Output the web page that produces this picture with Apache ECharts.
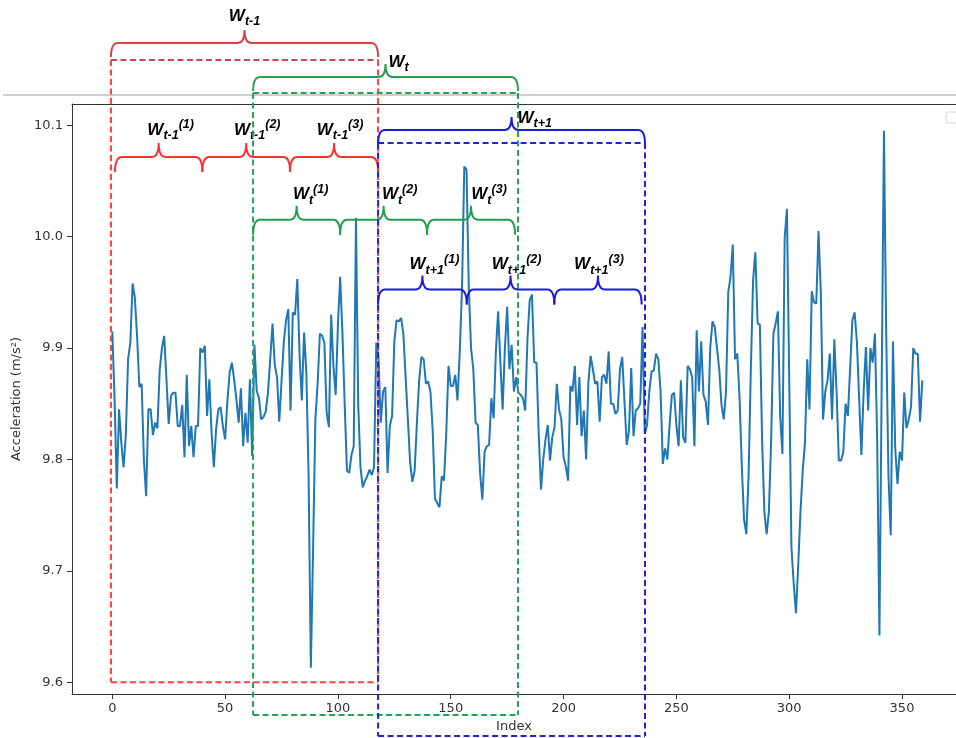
<!DOCTYPE html>
<html><head><meta charset="utf-8">
<script src="https://cdn.jsdelivr.net/npm/echarts@6/dist/echarts.min.js"></script>
<style>html,body{margin:0;padding:0;background:#fff}#c{width:956px;height:738px}</style>
</head><body><div id="c"></div>
<script>
// ---------- data ----------
const acceleration = [
9.915,9.855,9.774,9.845,9.815,9.793,9.822,9.890,9.905,9.958,
9.945,9.910,9.865,9.868,9.800,9.767,9.845,9.845,9.822,9.833,
9.828,9.880,9.900,9.911,9.872,9.832,9.857,9.860,9.860,9.830,
9.830,9.849,9.802,9.876,9.812,9.830,9.802,9.830,9.830,9.900,
9.896,9.902,9.839,9.872,9.824,9.793,9.827,9.845,9.847,9.830,
9.818,9.852,9.878,9.887,9.872,9.854,9.833,9.864,9.812,9.842,
9.815,9.872,9.803,9.903,9.862,9.855,9.836,9.838,9.843,9.860,
9.890,9.922,9.885,9.874,9.834,9.870,9.905,9.925,9.935,9.844,
9.932,9.930,9.962,9.893,9.853,9.914,9.878,9.785,9.613,9.721,
9.836,9.868,9.913,9.911,9.905,9.842,9.829,9.930,9.884,9.858,
9.921,9.964,9.913,9.849,9.790,9.788,9.804,9.812,10.017,9.849,
9.793,9.775,9.781,9.785,9.791,9.786,9.793,9.905,9.890,9.833,
9.861,9.865,9.788,9.830,9.839,9.906,9.925,9.924,9.927,9.913,
9.874,9.836,9.797,9.780,9.790,9.833,9.871,9.892,9.890,9.868,
9.870,9.861,9.826,9.765,9.761,9.757,9.785,9.781,9.823,9.884,
9.866,9.866,9.876,9.853,9.897,9.954,10.063,10.060,9.954,9.900,
9.881,9.833,9.831,9.788,9.764,9.807,9.812,9.813,9.855,9.837,
9.897,9.933,9.887,9.845,9.900,9.937,9.881,9.903,9.861,9.874,
9.860,9.858,9.855,9.844,9.908,9.943,9.948,9.887,9.887,9.823,
9.773,9.800,9.818,9.831,9.799,9.820,9.829,9.868,9.845,9.836,
9.802,9.794,9.781,9.866,9.861,9.884,9.831,9.874,9.821,9.844,
9.800,9.869,9.893,9.881,9.868,9.870,9.834,9.874,9.876,9.868,
9.897,9.850,9.850,9.841,9.844,9.881,9.892,9.852,9.813,9.826,
9.882,9.821,9.844,9.846,9.850,9.919,9.823,9.831,9.861,9.879,
9.880,9.895,9.890,9.861,9.796,9.810,9.800,9.831,9.858,9.860,
9.831,9.812,9.871,9.820,9.815,9.884,9.881,9.874,9.812,9.916,
9.861,9.906,9.858,9.852,9.831,9.900,9.924,9.919,9.900,9.881,
9.849,9.836,9.861,9.950,9.964,9.993,9.890,9.895,9.855,9.794,
9.746,9.733,9.785,9.881,9.961,9.986,9.922,9.921,9.817,9.753,
9.733,9.753,9.817,9.913,9.922,9.933,9.839,9.805,9.999,10.025,
9.874,9.721,9.689,9.662,9.705,9.753,9.790,9.815,9.890,9.845,
9.951,9.941,9.940,10.005,9.951,9.836,9.861,9.871,9.895,9.836,
9.908,9.861,9.799,9.799,9.807,9.850,9.839,9.881,9.925,9.932,
9.906,9.855,9.804,9.861,9.901,9.844,9.900,9.887,9.913,9.817,
9.642,9.870,10.095,9.913,9.785,9.732,9.906,9.810,9.778,9.807,
9.799,9.860,9.828,9.836,9.847,9.900,9.895,9.895,9.834,9.871
];
const sampleIndex = acceleration.map((_, i) => i);
const xTicks = [0, 50, 100, 150, 200, 250, 300, 350];
const yTicks = [9.6, 9.7, 9.8, 9.9, 10.0, 10.1];

// windows (index ranges) and their three sub-windows
const windowSubs = ['t-1', 't', 't+1'];
const windowSpans = [[-0.6, 117.8], [62.4, 179.8], [117.8, 236.1]];
const subWindowSpans = [
  [[1.2, 39.9], [39.9, 78.8], [78.8, 117.8]],
  [[62.4, 101.0], [101.0, 139.5], [139.5, 178.5]],
  [[117.8, 157.1], [157.1, 195.9], [195.9, 234.6]]
];

// ---------- layout / style of annotations ----------
const X_MIN = -17.86, X_MAX = 373.93;
const Y_MIN = 9.5895, Y_MAX = 10.1191;
const ann = [
  { braceV: 10.1738, boxTop: 10.1585, boxBottom: 9.6,    subV: 10.0716,
    brace: '#d64545', topDash: '#c94a4a', dash: '#ff4040', sub: '#ff3030',
    topLabel: { align: 'center', dx: 0, dy: -2, va: 'bottom' }, subDx: [12, 11, 6], subDy: -1 },
  { braceV: 10.1433, boxTop: 10.1290, boxBottom: 9.5707, subV: 10.0152,
    brace: '#2f9e55', topDash: '#23a455', dash: '#23a455', sub: '#1fa04a',
    topLabel: { align: 'left', dx: 3, dy: -2, va: 'middle' }, subDx: [14, 16, 18], subDy: 1 },
  { braceV: 10.0958, boxTop: 10.0841, boxBottom: 9.5519, subV: 9.9525,
    brace: '#1c1ce0', topDash: '#2020e6', dash: '#2020e6', sub: '#1c1ce0',
    topLabel: { align: 'left', dx: 6, dy: 1, va: 'middle' }, subDx: [12, 6, 1], subDy: 1 }
];

const richStyle = {
  w: { fontSize: 17, fontWeight: 'bold', fontStyle: 'italic', fontFamily: 'Liberation Sans', color: '#000' },
  s: { fontSize: 12.5, fontWeight: 'bold', fontStyle: 'italic', fontFamily: 'Liberation Sans', color: '#000', padding: [11, 0, 0, 0] },
  p: { fontSize: 12.5, fontWeight: 'bold', fontStyle: 'italic', fontFamily: 'Liberation Sans', color: '#000', padding: [0, 0, 11, 0] }
};

function bracePath(x0, x1, y, leg, tip, r) {
  const xm = (x0 + x1) / 2;
  return 'M' + x0 + ',' + (y + leg) + ' Q' + x0 + ',' + y + ' ' + (x0 + r) + ',' + y +
    ' L' + (xm - r) + ',' + y + ' Q' + xm + ',' + y + ' ' + xm + ',' + (y - tip) +
    ' Q' + xm + ',' + y + ' ' + (xm + r) + ',' + y +
    ' L' + (x1 - r) + ',' + y + ' Q' + x1 + ',' + y + ' ' + x1 + ',' + (y + leg);
}

function renderAnnotations(params, api) {
  const k = api.value(2);
  const a = ann[k];
  const P = (x, v) => api.coord([x, v]);
  const [s, e] = windowSpans[k];
  const children = [];
  const dash = (p1, p2, c) => ({ type: 'line', shape: { x1: p1[0], y1: p1[1], x2: p2[0], y2: p2[1] },
    style: { stroke: c, lineWidth: 2, lineDash: [6, 3.5], fill: null } });
  const tl = P(s, a.boxTop), tr = P(e, a.boxTop), bl = P(s, a.boxBottom), br = P(e, a.boxBottom);
  children.push(dash(tl, tr, a.topDash), dash(tl, bl, a.dash), dash(tr, br, a.dash), dash(bl, br, a.dash));
  // top brace
  const b0 = P(s, a.braceV), b1 = P(e, a.braceV);
  children.push({ type: 'path', shape: { pathData: bracePath(b0[0], b1[0], b0[1], 14, 13, 7) },
    style: { stroke: a.brace, lineWidth: 2, fill: null } });
  const tipX = (b0[0] + b1[0]) / 2, tipY = b0[1] - 13;
  const tl2 = a.topLabel;
  children.push({ type: 'text', x: tipX + tl2.dx, y: tipY + tl2.dy,
    style: { text: '{w|W}{s|' + windowSubs[k] + '}', rich: richStyle, align: tl2.align, verticalAlign: tl2.va } });
  // sub braces
  subWindowSpans[k].forEach((sp, j) => {
    const c0 = P(sp[0], a.subV), c1 = P(sp[1], a.subV);
    children.push({ type: 'path', shape: { pathData: bracePath(c0[0], c1[0], c0[1], 15, 14, 7) },
      style: { stroke: a.sub, lineWidth: 2, fill: null } });
    const tx = (c0[0] + c1[0]) / 2, ty = c0[1] - 14;
    children.push({ type: 'text', x: tx + a.subDx[j], y: ty + a.subDy,
      style: { text: '{w|W}{s|' + windowSubs[k] + '}{p|(' + (j + 1) + ')}', rich: richStyle, align: 'center', verticalAlign: 'bottom' } });
  });
  return { type: 'group', children: children };
}

const axisFont = { color: '#333', fontSize: 13, fontFamily: 'DejaVu Sans' };
const chart = echarts.init(document.getElementById('c'), null, { renderer: 'canvas' });
chart.setOption({
  animation: false,
  backgroundColor: '#fff',
  grid: { left: 72, right: 0, top: 104, bottom: 43 },
  xAxis: [
    { type: 'value', min: X_MIN, max: X_MAX, name: 'Index', nameLocation: 'middle', nameGap: 26,
      nameTextStyle: axisFont,
      axisLine: { show: true, onZero: false, lineStyle: { color: '#333', width: 1 } },
      axisTick: { show: true, length: 5, customValues: xTicks, lineStyle: { color: '#333' } },
      axisLabel: Object.assign({ customValues: xTicks, margin: 8 }, axisFont),
      splitLine: { show: false } },
    { type: 'value', position: 'top', min: X_MIN, max: X_MAX,
      axisLine: { show: true, onZero: false, lineStyle: { color: '#333', width: 1 } },
      axisTick: { show: false }, axisLabel: { show: false }, splitLine: { show: false } }
  ],
  yAxis: { type: 'value', min: Y_MIN, max: Y_MAX, name: 'Acceleration (m/s²)', nameLocation: 'middle',
    nameGap: 40, nameRotate: 90, nameTextStyle: axisFont,
    axisLine: { show: true, onZero: false, lineStyle: { color: '#333', width: 1 } },
    axisTick: { show: true, length: 5, customValues: yTicks, lineStyle: { color: '#333' } },
    axisLabel: Object.assign({ customValues: yTicks, margin: 9, formatter: v => v.toFixed(1) }, axisFont),
    splitLine: { show: false } },
  graphic: [
    { type: 'line', z: 1, shape: { x1: 3, y1: 95, x2: 956, y2: 95 }, style: { stroke: '#cfcfcf', lineWidth: 2 } },
    { type: 'rect', z: 1, shape: { x: 946, y: 112, width: 14, height: 11, r: 2 }, style: { stroke: '#d6d6d6', fill: '#fff', lineWidth: 1 } }
  ],
  series: [
    { type: 'line', xAxisIndex: 0, yAxisIndex: 0, showSymbol: false, z: 2,
      data: sampleIndex.map((x, i) => [x, acceleration[i]]),
      lineStyle: { color: '#1f77b4', width: 2 }, itemStyle: { color: '#1f77b4' } },
    { type: 'custom', coordinateSystem: 'cartesian2d', xAxisIndex: 0, yAxisIndex: 0, clip: false, z: 5, silent: true,
      data: [[58, 9.8, 0], [121, 9.8, 1], [177, 9.8, 2]], encode: { x: 0, y: 1 },
      renderItem: renderAnnotations }
  ]
});
</script>
</body></html>
